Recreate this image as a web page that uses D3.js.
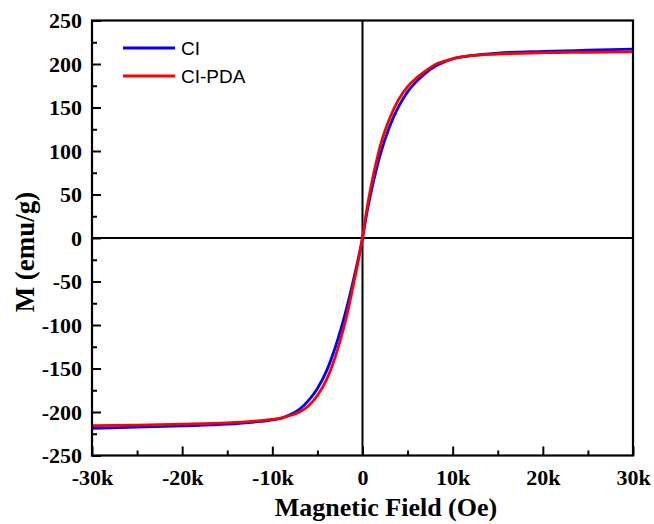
<!DOCTYPE html>
<html>
<head>
<meta charset="utf-8">
<script src="https://cdn.jsdelivr.net/npm/d3@7"></script>
<style>
  html, body { margin: 0; padding: 0; background: #fff; }
  svg { display: block; }
</style>
</head>
<body>
<svg id="chart" width="654" height="524"></svg>
<script>
// Applied field in kOe
const fieldK = [-30, -25, -20, -15, -12, -10, -9, -8, -7, -6, -5, -4, -3, -2, -1.5, -1, -0.5,
  0, 0.5, 1, 1.5, 2, 3, 4, 5, 6, 7, 8, 9, 10, 12, 15, 20, 25, 30];

// Magnetization (emu/g)
const ciValues = [-218.7, -217.5, -216, -214, -211.5, -209, -207, -203, -197, -187, -173, -153, -125, -90, -70, -48, -25,
  0, 30, 55, 77, 97, 128, 151, 168, 180, 189.5, 197, 202, 206, 209.5, 212.5, 214.5, 215.8, 217];
const ciPdaValues = [-215.7, -215, -214, -212.5, -210.5, -208.5, -207, -204, -200, -193, -181, -163, -136, -100, -78, -53, -28,
  0, 34, 62, 86, 107, 137, 159, 174, 184, 192, 199, 203, 206, 209.5, 211.5, 213, 213.5, 214];

const seriesNames = ["CI", "CI-PDA"];
const seriesColors = ["#0000ff", "#ff0000"];

const xMajorTicks = [-30, -20, -10, 0, 10, 20, 30];
const xTickLabels = ["-30k", "-20k", "-10k", "0", "10k", "20k", "30k"];
const xMinorTicks = [-25, -15, -5, 5, 15, 25];
const yMajorTicks = [-250, -200, -150, -100, -50, 0, 50, 100, 150, 200, 250];
const yMinorTicks = [-225, -175, -125, -75, -25, 25, 75, 125, 175, 225];

const margin = { left: 92, right: 21, top: 20.5, bottom: 68.5 };
const W = 654, H = 524;

const svg = d3.select("#chart");
const x = d3.scaleLinear().domain([-30, 30]).range([margin.left, W - margin.right]);
const y = d3.scaleLinear().domain([-250, 250]).range([H - margin.bottom, margin.top]);

const serif = "'Liberation Serif', 'Times New Roman', serif";
const sans = "'Liberation Sans', Arial, sans-serif";

// Zero lines
svg.append("line")
  .attr("x1", x(0)).attr("x2", x(0)).attr("y1", y(250)).attr("y2", y(-250))
  .attr("stroke", "#000").attr("stroke-width", 2);
svg.append("line")
  .attr("x1", x(-30)).attr("x2", x(30)).attr("y1", y(0)).attr("y2", y(0))
  .attr("stroke", "#000").attr("stroke-width", 2);

// Curves
const series = [ciValues, ciPdaValues];
series.forEach((vals, i) => {
  const line = d3.line()
    .x((d, j) => x(fieldK[j]))
    .y(d => y(d))
    .curve(d3.curveMonotoneX);
  svg.append("path")
    .datum(vals)
    .attr("fill", "none")
    .attr("stroke", seriesColors[i])
    .attr("stroke-width", 2.8)
    .attr("stroke-linejoin", "round")
    .attr("d", line);
});

// Axes with inward ticks
svg.append("g")
  .attr("transform", `translate(0,${y(-250)})`)
  .call(d3.axisBottom(x).tickValues(xMajorTicks).tickSizeInner(-9).tickSizeOuter(0).tickPadding(14)
    .tickFormat((d, i) => xTickLabels[i]));
svg.append("g")
  .attr("transform", `translate(0,${y(-250)})`)
  .call(d3.axisBottom(x).tickValues(xMinorTicks).tickSizeInner(-5).tickSizeOuter(0).tickFormat(""));

svg.append("g")
  .attr("transform", `translate(${x(-30)},0)`)
  .call(d3.axisLeft(y).tickValues(yMajorTicks).tickSizeInner(-9).tickSizeOuter(0).tickPadding(10)
    .tickFormat(d => String(d)));
svg.append("g")
  .attr("transform", `translate(${x(-30)},0)`)
  .call(d3.axisLeft(y).tickValues(yMinorTicks).tickSizeInner(-5).tickSizeOuter(0).tickFormat(""));

svg.selectAll(".tick line").attr("stroke", "#000").attr("stroke-width", 2);
svg.selectAll(".tick text")
  .attr("fill", "#000")
  .style("font-family", serif)
  .style("font-weight", "bold")
  .style("font-size", "22px");
svg.selectAll(".domain").remove();

// Frame
svg.append("rect")
  .attr("x", x(-30)).attr("y", y(250))
  .attr("width", x(30) - x(-30)).attr("height", y(-250) - y(250))
  .attr("fill", "none").attr("stroke", "#000").attr("stroke-width", 2.2);

// Axis titles
svg.append("text")
  .attr("x", 386).attr("y", 516)
  .attr("text-anchor", "middle")
  .style("font-family", serif).style("font-weight", "bold").style("font-size", "26px")
  .text("Magnetic Field (Oe)");
svg.append("text")
  .attr("transform", "translate(34,252) rotate(-90)")
  .attr("text-anchor", "middle")
  .style("font-family", serif).style("font-weight", "bold").style("font-size", "27px")
  .text("M (emu/g)");

// Legend
const legend = svg.append("g");
seriesNames.forEach((name, i) => {
  const ly = 48 + i * 28;
  legend.append("line")
    .attr("x1", 123).attr("x2", 175).attr("y1", ly).attr("y2", ly)
    .attr("stroke", seriesColors[i]).attr("stroke-width", 2.8);
  legend.append("text")
    .attr("x", 181).attr("y", ly + 7)
    .style("font-family", sans).style("font-size", "19px")
    .attr("fill", "#000")
    .text(name);
});
</script>
</body>
</html>
